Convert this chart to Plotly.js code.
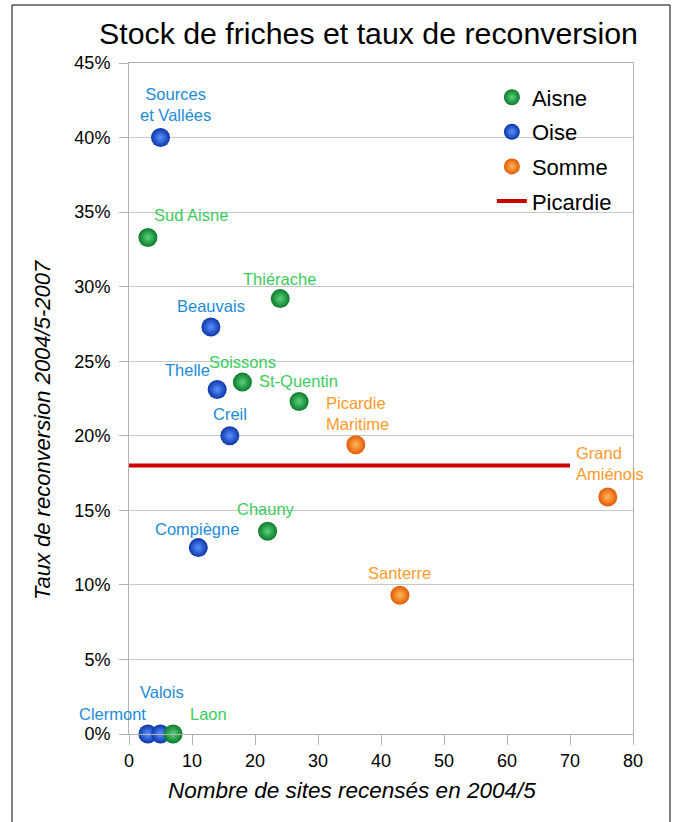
<!DOCTYPE html>
<html>
<head>
<meta charset="utf-8">
<script src="https://cdn.plot.ly/plotly-3.0.1.min.js"></script>
<style>
  html, body { margin: 0; padding: 0; background: #ffffff; }
  #chart { width: 676px; height: 822px; }
</style>
</head>
<body>
<div id="chart"></div>
<script>
// ---- Data ----
const aisneNames = ["Sud Aisne", "Thiérache", "Soissons", "St-Quentin", "Chauny", "Laon"];
const aisneSites = [3, 24, 18, 27, 22, 7];
const aisneRates = [33.3, 29.2, 23.6, 22.3, 13.6, 0];

const oiseNames = ["Sources<br>et Vallées", "Beauvais", "Thelle", "Creil", "Compiègne", "Clermont", "Valois"];
const oiseSites = [5, 13, 14, 16, 11, 3, 5];
const oiseRates = [40, 27.3, 23.1, 20, 12.5, 0, 0];

const sommeNames = ["Picardie<br>Maritime", "Grand<br>Amiénois", "Santerre"];
const sommeSites = [36, 76, 43];
const sommeRates = [19.4, 15.9, 9.3];

const picardieSites = [0, 70];
const picardieRate = 18;

const seriesNames = ["Aisne", "Oise", "Somme", "Picardie"];
const xTicks = [0, 10, 20, 30, 40, 50, 60, 70, 80];
const yTicks = [0, 5, 10, 15, 20, 25, 30, 35, 40, 45];

// ---- Label placement (pixel offsets from each point) ----
const aisneLabelPos = [[43, 22, "center"], [-1, 20, "center"], [0, 20, "center"], [-1, 20, "center"], [-2, 22, "center"], [35, 20, "center"]];
const oiseLabelPos = [[15, 33, "center"], [0, 21, "center"], [-30, 20, "center"], [0, 22, "center"], [-1, 19, "center"], [-35, 20, "center"], [1, 42, "center"]];
const sommeLabelPos = [[-32, 31, "left"], [-34, 33, "left"], [0, 22, "center"]];

const FONT = "Liberation Sans, Arial, sans-serif";

function scatter(name, xs, ys, edge, center, rank) {
  return {
    type: "scatter", mode: "markers", name: name,
    x: xs, y: ys, cliponaxis: false, legendrank: rank, legendgroup: name,
    marker: { size: 19, color: edge, gradient: { type: "radial", color: center }, line: { width: 0 } },
    hoverinfo: "x+y"
  };
}

const traces = [
  scatter(seriesNames[1], oiseSites, oiseRates, "#0c36a8", "#5a92ff", 2),
  scatter(seriesNames[0], aisneSites, aisneRates, "#0a7a2a", "#5cd27e", 1),
  scatter(seriesNames[2], sommeSites, sommeRates, "#e25a06", "#ffb85a", 3),
  {
    type: "scatter", mode: "lines", name: seriesNames[3], legendrank: 4, legendgroup: seriesNames[3],
    x: picardieSites, y: [picardieRate, picardieRate],
    line: { color: "#cc0000", width: 4 }, hoverinfo: "y"
  }
];

const annotations = [];
function addLabels(names, xs, ys, pos, color) {
  names.forEach((n, i) => {
    const p = pos[i];
    annotations.push({
      x: xs[i], y: ys[i], xref: "x", yref: "y", text: n, showarrow: false,
      xshift: p[0], yshift: p[1],
      xanchor: p[2] === "left" ? "left" : "center", yanchor: "middle", align: p[2],
      font: { family: FONT, size: 16.5, color: color }
    });
  });
}
addLabels(aisneNames, aisneSites, aisneRates, aisneLabelPos, "#3ccc5e");
addLabels(oiseNames, oiseSites, oiseRates, oiseLabelPos, "#1d8bd8");
addLabels(sommeNames, sommeSites, sommeRates, sommeLabelPos, "#ff9a2a");

// axis titles
annotations.push({
  xref: "paper", yref: "paper", x: (352 - 129) / 504, y: (734 - 790) / 671,
  text: "Nombre de sites recensés en 2004/5", showarrow: false,
  xanchor: "center", yanchor: "middle",
  font: { family: FONT, size: 22.5, color: "#000000", style: "italic" }
});
annotations.push({
  xref: "paper", yref: "paper", x: (42 - 129) / 504, y: (734 - 430) / 671,
  text: "Taux de reconversion 2004/5-2007", showarrow: false, textangle: -90,
  xanchor: "center", yanchor: "middle",
  font: { family: FONT, size: 22, color: "#000000", style: "italic" }
});

const layout = {
  width: 676, height: 822,
  margin: { l: 129, r: 43, t: 63, b: 88 },
  paper_bgcolor: "#ffffff", plot_bgcolor: "#ffffff",
  font: { family: FONT, color: "#000000" },
  title: {
    text: "Stock de friches et taux de reconversion",
    xref: "container", yref: "container", x: 368.5 / 676, y: 1 - 33 / 822,
    xanchor: "center", yanchor: "middle",
    font: { family: FONT, size: 30.3, color: "#000000" }
  },
  xaxis: {
    range: [0, 80], tickvals: xTicks, ticktext: xTicks.map(String),
    showgrid: false, zeroline: false, showline: true, mirror: true,
    linecolor: "#b3b3b3", linewidth: 1,
    ticks: "outside", ticklen: 10, tickcolor: "#b3b3b3",
    tickfont: { family: FONT, size: 18, color: "#000000" }, fixedrange: true
  },
  yaxis: {
    range: [0, 45], tickvals: yTicks, ticktext: yTicks.map(v => v + "%"),
    showgrid: true, gridcolor: "#c8c8c8", gridwidth: 1, zeroline: false,
    showline: true, mirror: true, linecolor: "#b3b3b3", linewidth: 1,
    ticks: "outside", ticklen: 9, tickcolor: "#b3b3b3", ticklabelstandoff: 5,
    tickfont: { family: FONT, size: 18, color: "#000000" }, fixedrange: true
  },
  showlegend: true,
  legend: {
    x: 0.72, y: 0.98, xanchor: "left", yanchor: "top",
    bgcolor: "rgba(255,255,255,0)", borderwidth: 0,
    traceorder: "grouped", tracegroupgap: 3,
    font: { family: FONT, size: 22, color: "#000000" }
  },
  annotations: annotations,
  shapes: [{
    type: "rect", xref: "paper", yref: "paper",
    x0: (12 - 129) / 504, x1: (670 - 129) / 504,
    y0: (734 - 840) / 671, y1: (734 - 5) / 671,
    line: { color: "#000000", width: 1 }, fillcolor: "rgba(0,0,0,0)", layer: "below"
  }],
  hovermode: "closest"
};

Plotly.newPlot("chart", traces, layout, { displayModeBar: false, staticPlot: false });
</script>
</body>
</html>
